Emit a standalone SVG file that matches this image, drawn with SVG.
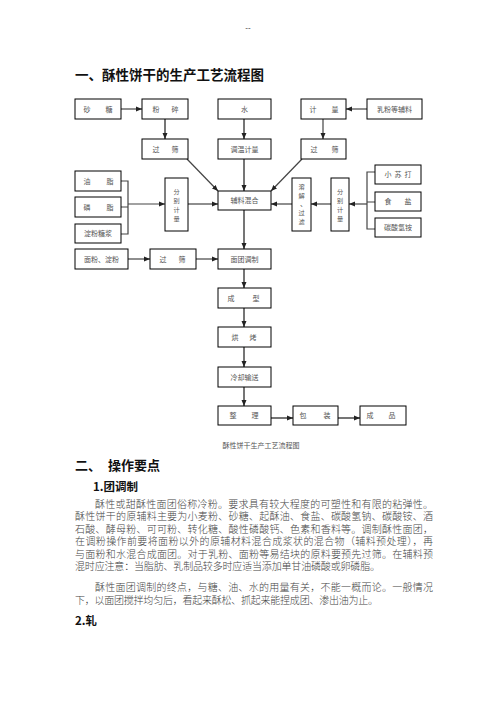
<svg xmlns="http://www.w3.org/2000/svg" width="496" height="702" viewBox="0 0 496 702">
<style>
.bx{fill:#fff;stroke:#000;stroke-width:1}
.lb{font-family:"Noto Sans CJK SC","Liberation Serif",serif;font-size:7px;fill:#555;text-anchor:middle}
.vt{font-size:6.2px}
.c{fill:none;stroke:#444;stroke-width:1.2}
.cv{fill:none;stroke:#666;stroke-width:1.8}
.b{font-family:"Noto Sans CJK SC","Liberation Serif",serif;font-size:10px;fill:#444;font-weight:300}
.h{font-family:"Noto Sans CJK SC","Liberation Sans",sans-serif;font-weight:bold;fill:#111}
</style>
<defs>
<marker id="ah" viewBox="0 0 6 6" refX="6" refY="3" markerWidth="6" markerHeight="6" markerUnits="userSpaceOnUse" orient="auto"><path d="M0,0.5 L6,3 L0,5.5 Z" fill="#222"/></marker>
</defs>
<rect width="496" height="702" fill="#fff"/>
<text x="248" y="30" font-family="Liberation Sans,sans-serif" font-size="8" fill="#333" text-anchor="middle">--</text>
<text class="h" x="75" y="80" font-size="13.5">一、酥性饼干的生产工艺流程图</text>

<g id="connectors">
<line class="c" x1="121" y1="109" x2="142" y2="109" marker-end="url(#ah)"/>
<line class="c" x1="367" y1="109" x2="346" y2="109" marker-end="url(#ah)"/>
<line class="cv" x1="165" y1="119" x2="165" y2="139" marker-end="url(#ah)"/>
<line class="cv" x1="244" y1="119" x2="244" y2="139" marker-end="url(#ah)"/>
<line class="c" x1="323" y1="119" x2="323" y2="139" marker-end="url(#ah)"/>
<line class="c" x1="187" y1="159" x2="218" y2="191" marker-end="url(#ah)"/>
<line class="cv" x1="244" y1="159" x2="244" y2="191" marker-end="url(#ah)"/>
<line class="c" x1="302" y1="159" x2="271" y2="191" marker-end="url(#ah)"/>
<path class="c" d="M121,181 H128 V234 H121 M121,207 H128"/>
<line class="c" x1="128" y1="204" x2="165" y2="204" marker-end="url(#ah)"/>
<line class="c" x1="188" y1="204" x2="218" y2="204" marker-end="url(#ah)"/>
<line class="c" x1="292" y1="204" x2="271" y2="204" marker-end="url(#ah)"/>
<line class="c" x1="331" y1="204" x2="311" y2="204" marker-end="url(#ah)"/>
<path class="c" d="M375,172 H367 V229 H375 M367,202 H375"/>
<line class="c" x1="367" y1="204" x2="349" y2="204" marker-end="url(#ah)"/>
<line class="cv" x1="244" y1="210" x2="244" y2="249" marker-end="url(#ah)"/>
<line class="c" x1="128" y1="259" x2="150" y2="259" marker-end="url(#ah)"/>
<line class="c" x1="196" y1="259" x2="218" y2="259" marker-end="url(#ah)"/>
<line class="cv" x1="244" y1="269" x2="244" y2="288" marker-end="url(#ah)"/>
<line class="cv" x1="244" y1="308" x2="244" y2="327" marker-end="url(#ah)"/>
<line class="cv" x1="244" y1="347" x2="244" y2="367" marker-end="url(#ah)"/>
<line class="cv" x1="244" y1="387" x2="244" y2="406" marker-end="url(#ah)"/>
<line class="cv" x1="271" y1="418" x2="293" y2="418" marker-end="url(#ah)"/>
<line class="cv" x1="338" y1="418" x2="360" y2="418" marker-end="url(#ah)"/>
</g>

<g id="n-sugar"><rect class="bx" x="75" y="99" width="46" height="20"/><text class="lb" x="87" y="111.5">砂</text><text class="lb" x="109" y="111.5">糖</text></g>
<g id="n-crush"><rect class="bx" x="142" y="99" width="46" height="20"/><text class="lb" x="156" y="111.5">粉</text><text class="lb" x="175" y="111.5">碎</text></g>
<g id="n-water"><rect class="bx" x="218" y="99" width="53" height="20"/><text class="lb" x="244.5" y="111.5">水</text></g>
<g id="n-measure"><rect class="bx" x="301" y="99" width="45" height="20"/><text class="lb" x="313" y="111.5">计</text><text class="lb" x="335" y="111.5">量</text></g>
<g id="n-milk"><rect class="bx" x="367" y="99" width="55" height="20"/><text class="lb" x="394.5" y="111.5">乳粉等辅料</text></g>
<g id="n-sieve1"><rect class="bx" x="142" y="139" width="46" height="20"/><text class="lb" x="156" y="151.5">过</text><text class="lb" x="175" y="151.5">筛</text></g>
<g id="n-temp"><rect class="bx" x="218" y="139" width="53" height="20"/><text class="lb" x="244.5" y="151.5">调温计量</text></g>
<g id="n-sieve2"><rect class="bx" x="301" y="139" width="45" height="20"/><text class="lb" x="314" y="151.5">过</text><text class="lb" x="335" y="151.5">筛</text></g>
<g id="n-oil"><rect class="bx" x="75" y="171" width="46" height="20"/><text class="lb" x="87" y="183.5">油</text><text class="lb" x="110" y="183.5">脂</text></g>
<g id="n-lecithin"><rect class="bx" x="75" y="197" width="46" height="20"/><text class="lb" x="87" y="209.5">磷</text><text class="lb" x="110" y="209.5">脂</text></g>
<g id="n-syrup"><rect class="bx" x="75" y="224" width="46" height="19"/><text class="lb" x="98" y="236">淀粉糖浆</text></g>
<g id="n-weigh1"><rect class="bx" x="165" y="178" width="23" height="53"/><text class="lb vt" x="176.5" y="193.5">分</text><text class="lb vt" x="176.5" y="202.5">别</text><text class="lb vt" x="176.5" y="211.5">计</text><text class="lb vt" x="176.5" y="220.5">量</text></g>
<g id="n-mix"><rect class="bx" x="218" y="191" width="53" height="19"/><text class="lb" x="244.5" y="203">辅料混合</text></g>
<g id="n-dissolve"><rect class="bx" x="292" y="178" width="19" height="53"/><text class="lb vt" x="301.5" y="189">溶</text><text class="lb vt" x="301.5" y="198">解</text><text class="lb" x="303.5" y="205.5" font-size="5">、</text><text class="lb vt" x="301.5" y="215">过</text><text class="lb vt" x="301.5" y="224">滤</text></g>
<g id="n-weigh2"><rect class="bx" x="331" y="178" width="18" height="53"/><text class="lb vt" x="340" y="193.5">分</text><text class="lb vt" x="340" y="202.5">别</text><text class="lb vt" x="340" y="211.5">计</text><text class="lb vt" x="340" y="220.5">量</text></g>
<g id="n-soda"><rect class="bx" x="375" y="165" width="46" height="19"/><text class="lb" x="388" y="177">小</text><text class="lb" x="398" y="177">苏</text><text class="lb" x="408" y="177">打</text></g>
<g id="n-salt"><rect class="bx" x="375" y="192" width="46" height="19"/><text class="lb" x="388" y="204">食</text><text class="lb" x="408" y="204">盐</text></g>
<g id="n-ammonium"><rect class="bx" x="375" y="218" width="46" height="19"/><text class="lb" x="398" y="230">碳酸氢铵</text></g>
<g id="n-flour"><rect class="bx" x="75" y="249" width="53" height="20"/><text class="lb" x="101.5" y="261.5">面粉、淀粉</text></g>
<g id="n-sieve3"><rect class="bx" x="150" y="249" width="46" height="20"/><text class="lb" x="163" y="261.5">过</text><text class="lb" x="182" y="261.5">筛</text></g>
<g id="n-dough"><rect class="bx" x="218" y="249" width="53" height="20"/><text class="lb" x="244.5" y="261.5">面团调制</text></g>
<g id="n-form"><rect class="bx" x="218" y="288" width="53" height="20"/><text class="lb" x="231" y="300.5">成</text><text class="lb" x="256" y="300.5">型</text></g>
<g id="n-bake"><rect class="bx" x="218" y="327" width="53" height="20"/><text class="lb" x="235" y="339.5">烘</text><text class="lb" x="253" y="339.5">烤</text></g>
<g id="n-cool"><rect class="bx" x="218" y="367" width="53" height="20"/><text class="lb" x="244.5" y="379.5">冷却输送</text></g>
<g id="n-sort"><rect class="bx" x="218" y="406" width="53" height="19"/><text class="lb" x="233" y="418">整</text><text class="lb" x="255" y="418">理</text></g>
<g id="n-pack"><rect class="bx" x="293" y="406" width="45" height="19"/><text class="lb" x="303" y="418">包</text><text class="lb" x="327" y="418">装</text></g>
<g id="n-product"><rect class="bx" x="360" y="406" width="46" height="19"/><text class="lb" x="370" y="418">成</text><text class="lb" x="392" y="418">品</text></g>

<text class="lb" x="261" y="447.5" font-size="7.5">酥性饼干生产工艺流程图</text>

<text class="h" x="75" y="470" font-size="13">二、</text>
<text class="h" x="108" y="470" font-size="13">操作要点</text>
<text class="h" x="93" y="491" font-size="11.5">1.团调制</text>
<text class="b" x="95" y="507.5" textLength="338" lengthAdjust="spacing">酥性或甜酥性面团俗称冷粉。要求具有较大程度的可塑性和有限的粘弹性。</text>
<text class="b" x="75" y="520" textLength="358" lengthAdjust="spacing">酥性饼干的原辅料主要为小麦粉、砂糖、起酥油、食盐、碳酸氢钠、碳酸铵、酒</text>
<text class="b" x="75" y="532.5" textLength="358" lengthAdjust="spacing">石酸、酵母粉、可可粉、转化糖、酸性磷酸钙、色素和香料等。调制酥性面团，</text>
<text class="b" x="75" y="545" textLength="358" lengthAdjust="spacing">在调粉操作前要将面粉以外的原辅材料混合成浆状的混合物（辅料预处理），再</text>
<text class="b" x="75" y="557.5" textLength="358" lengthAdjust="spacing">与面粉和水混合成面团。对于乳粉、面粉等易结块的原料要预先过筛。在辅料预</text>
<text class="b" x="75" y="570" textLength="305" lengthAdjust="spacing">混时应注意：当脂肪、乳制品较多时应适当添加单甘油磷酸或卵磷脂。</text>
<text class="b" x="95" y="591" textLength="338" lengthAdjust="spacing">酥性面团调制的终点，与糖、油、水的用量有关，不能一概而论。一般情况</text>
<text class="b" x="75" y="603.5" textLength="303" lengthAdjust="spacing">下，以面团搅拌均匀后，看起来酥松、抓起来能捏成团、渗出油为止。</text>
<text class="h" x="75" y="625" font-size="11.5">2.轧</text>
</svg>
